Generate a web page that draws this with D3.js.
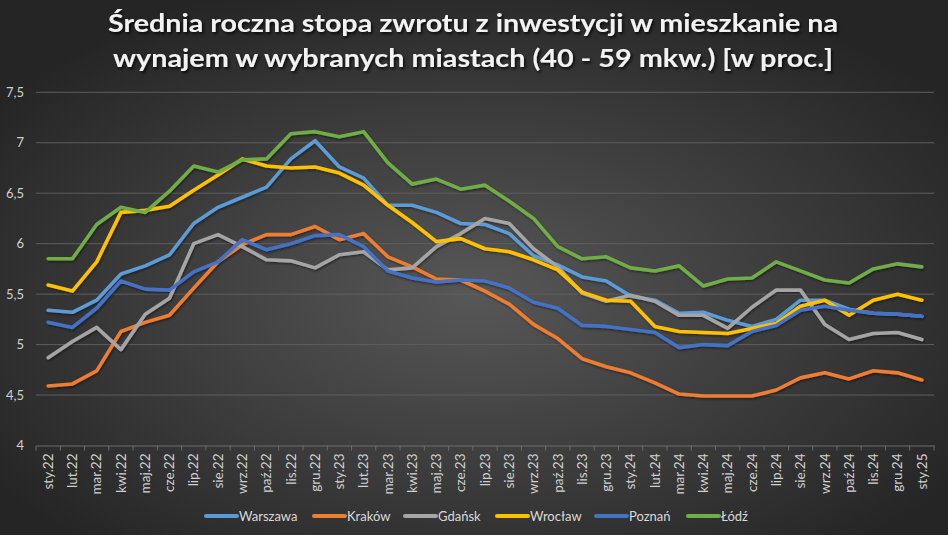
<!DOCTYPE html>
<html><head><meta charset="utf-8">
<script src="https://cdn.jsdelivr.net/npm/d3@7"></script>
<style>html,body{margin:0;padding:0;background:#333;}svg{display:block;}</style>
</head><body>
<svg id="chart" width="948" height="535"></svg>
<script>
const categories = ["sty.22","lut.22","mar.22","kwi.22","maj.22","cze.22","lip.22","sie.22","wrz.22","paź.22","lis.22","gru.22",
"sty.23","lut.23","mar.23","kwi.23","maj.23","cze.23","lip.23","sie.23","wrz.23","paź.23","lis.23","gru.23",
"sty.24","lut.24","mar.24","kwi.24","maj.24","cze.24","lip.24","sie.24","wrz.24","paź.24","lis.24","gru.24","sty.25"];
const warszawa = [5.34,5.32,5.44,5.70,5.78,5.89,6.20,6.36,6.46,6.56,6.84,7.02,
6.76,6.65,6.38,6.38,6.31,6.20,6.19,6.10,5.88,5.79,5.67,5.63,
5.48,5.44,5.31,5.32,5.24,5.18,5.25,5.44,5.44,5.35,5.31,5.30,5.28];
const krakow = [4.59,4.61,4.74,5.13,5.22,5.29,5.56,5.82,5.99,6.09,6.09,6.17,
6.04,6.10,5.87,5.77,5.65,5.64,5.53,5.40,5.20,5.06,4.86,4.78,
4.72,4.62,4.51,4.49,4.49,4.49,4.55,4.67,4.72,4.66,4.74,4.72,4.65];
const gdansk = [4.87,5.03,5.17,4.95,5.30,5.46,6.00,6.09,5.97,5.84,5.83,5.76,
5.89,5.92,5.74,5.76,5.97,6.10,6.25,6.20,5.95,5.77,5.51,5.43,
5.49,5.43,5.29,5.29,5.16,5.37,5.54,5.54,5.20,5.05,5.11,5.12,5.05];
const wroclaw = [5.59,5.53,5.82,6.31,6.33,6.37,6.53,6.68,6.84,6.77,6.75,6.76,
6.70,6.58,6.38,6.21,6.02,6.05,5.95,5.92,5.84,5.74,5.52,5.44,
5.43,5.18,5.13,5.12,5.11,5.16,5.21,5.38,5.44,5.29,5.44,5.50,5.44];
const poznan = [5.22,5.17,5.36,5.63,5.55,5.54,5.72,5.82,6.04,5.94,6.00,6.08,
6.09,5.97,5.73,5.66,5.62,5.64,5.63,5.56,5.42,5.36,5.19,5.18,
5.15,5.12,4.97,5.00,4.99,5.13,5.19,5.34,5.38,5.34,5.31,5.30,5.28];
const lodz = [5.85,5.85,6.19,6.36,6.31,6.52,6.77,6.71,6.83,6.84,7.09,7.11,
7.06,7.11,6.80,6.59,6.64,6.54,6.58,6.42,6.25,5.97,5.85,5.87,
5.76,5.73,5.78,5.58,5.65,5.66,5.82,5.73,5.64,5.61,5.75,5.80,5.77];
const seriesNames = ["Warszawa","Kraków","Gdańsk","Wrocław","Poznań","Łódź"];
const seriesColors = ["#5B9BD5","#ED7D31","#A5A5A5","#FFC000","#4472C4","#70AD47"];
const yTicks = [4,4.5,5,5.5,6,6.5,7,7.5];
const titleLines = ["Średnia roczna stopa zwrotu z inwestycji w mieszkanie na","wynajem w wybranych miastach (40 - 59 mkw.) [w proc.]"];

const seriesValues = [warszawa,krakow,gdansk,wroclaw,poznan,lodz];
const series = seriesNames.map((n,i)=>({name:n,color:seriesColors[i],values:seriesValues[i]}));

const svg = d3.select("#chart");
const W = 948, H = 535;
const defs = svg.append("defs");
const rg = defs.append("radialGradient").attr("id","bg").attr("cx","50%").attr("cy","55%").attr("r","62%");
rg.append("stop").attr("offset","0%").attr("stop-color","#575757");
rg.append("stop").attr("offset","100%").attr("stop-color","#252525");
svg.append("rect").attr("width",W).attr("height",H).attr("fill","url(#bg)");

const f = defs.append("filter").attr("id","shadow").attr("x","-5%").attr("y","-20%").attr("width","110%").attr("height","150%");
f.append("feDropShadow").attr("dx",1.5).attr("dy",2).attr("stdDeviation",1.5).attr("flood-color","#000").attr("flood-opacity",0.8);
const lf = defs.append("filter").attr("id","lshadow").attr("x","-5%").attr("y","-10%").attr("width","110%").attr("height","130%");
lf.append("feDropShadow").attr("dx",1).attr("dy",1.5).attr("stdDeviation",1.2).attr("flood-color","#000").attr("flood-opacity",0.45);

const pLeft = 36, pRight = 934, pTop = 92.3, pBottom = 445.5;
const x = d3.scaleBand().domain(categories).range([pLeft,pRight]);
const y = d3.scaleLinear().domain([4,7.5]).range([pBottom,pTop]);

// gridlines
svg.append("g").selectAll("line").data(yTicks.filter(t=>t>4)).join("line")
  .attr("x1",pLeft).attr("x2",pRight).attr("y1",d=>y(d)).attr("y2",d=>y(d))
  .attr("stroke","#5e5e5e").attr("stroke-width",1);

// y axis labels
const yAxis = d3.axisLeft(y).tickValues(yTicks).tickSize(0).tickPadding(0)
  .tickFormat(d=>d3.format(".1~f")(d).replace(".",","));
const gy = svg.append("g").attr("transform",`translate(${pLeft-12},0)`).call(yAxis);
gy.select(".domain").remove();
gy.selectAll("text").attr("fill","#d0d0d0").style("font-family","Lato, 'Open Sans', sans-serif").style("font-size","13px");

// x axis
const xAxis = d3.axisBottom(x).tickSize(0).tickPadding(0);
const gx = svg.append("g").attr("transform",`translate(0,${pBottom})`).call(xAxis);
gx.select(".domain").attr("stroke","#6c6c6c");
gx.selectAll(".tick text").attr("fill","#d0d0d0").style("font-family","Lato, 'Open Sans', sans-serif").style("font-size","13.5px")
  .attr("text-anchor","end").attr("transform","rotate(-90)").attr("x",-8).attr("y",0).attr("dy","0.35em").attr("dx",0);
// tick marks at band boundaries
const bounds = categories.map(c=>x(c)).concat([x(categories[categories.length-1])+x.bandwidth()]);
gx.append("g").selectAll("line").data(bounds).join("line")
  .attr("x1",d=>d).attr("x2",d=>d).attr("y1",0).attr("y2",5).attr("stroke","#6c6c6c");

// lines
const line = d3.line().x((d,i)=>x(categories[i])+x.bandwidth()/2).y(d=>y(d));
svg.append("g").attr("filter","url(#lshadow)").selectAll("path").data(series).join("path")
  .attr("d",d=>line(d.values)).attr("fill","none").attr("stroke",d=>d.color)
  .attr("stroke-width",3.6).attr("stroke-linejoin","round").attr("stroke-linecap","round");

// title
const tt = svg.append("g").attr("filter","url(#shadow)");
const tLens = [730, 720];
const tY = [32, 67];
titleLines.forEach((t,i)=>{
  tt.append("text").text(t).attr("x",W/2 - 1).attr("y",tY[i]).attr("text-anchor","middle")
    .attr("fill","#f2f2f2").style("font-family","Lato, 'Open Sans', sans-serif").style("font-weight","700").style("font-size","24px")
    .attr("textLength",tLens[i]).attr("lengthAdjust","spacingAndGlyphs");
});

// legend
const legX = [205,313,404,496,595,687];
const lg = svg.append("g").selectAll("g").data(series).join("g")
  .attr("transform",(d,i)=>`translate(${legX[i]},516)`);
lg.append("line").attr("x1",1).attr("x2",32).attr("y1",0).attr("y2",0)
  .attr("stroke",d=>d.color).attr("stroke-width",4).attr("stroke-linecap","round");
lg.append("text").text(d=>d.name).attr("x",34).attr("y",0).attr("dy","0.35em")
  .attr("fill","#d9d9d9").style("font-family","Lato, 'Open Sans', sans-serif").style("font-size","13px");
</script>
</body></html>
